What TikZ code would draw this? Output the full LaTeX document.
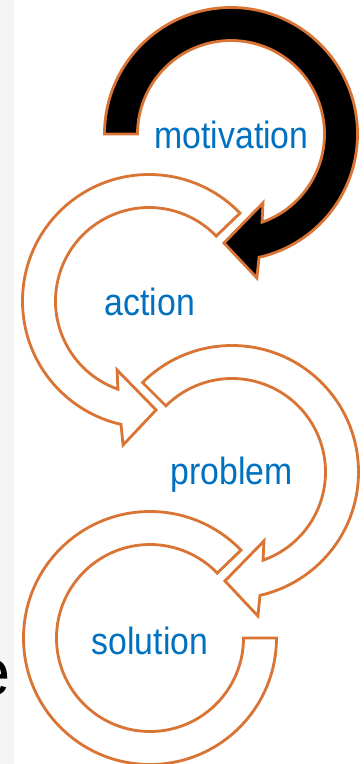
\documentclass[tikz,border=0pt]{standalone}
\usepackage{fontspec}
\setmainfont{Liberation Sans}
\definecolor{ringorange}{RGB}{217,116,52}
\definecolor{wordblue}{RGB}{0,112,192}
\tikzset{
    ringarrow/.style={draw=ringorange,line width=0.8pt,line join=miter,fill=white},
    ringword/.style={text=wordblue,font=\fontsize{10.8}{13}\selectfont,xscale=0.89,anchor=base,inner sep=0pt}
}

\begin{document}
\begin{tikzpicture}
        \clip (0,0) rectangle (3.63,-7.64);
        \fill[white] (0,0) rectangle (3.63,-7.64);
        \fill[black!4] (0,0) rectangle (0.14,-7.64);

        \coordinate (M) at (2.31,-1.34);
        \coordinate (A) at (1.49,-3.01);
        \coordinate (P) at (2.32,-4.72);
        \coordinate (S) at (1.50,-6.38);

        % solution ring, open on the right
        \begin{scope}[shift={(S)}]
            \draw[ringarrow] (44:1.265) arc (44:360:1.265) -- (0:0.935) arc (360:44:0.935) -- cycle;
        \end{scope}
        % problem ring, clockwise
        \begin{scope}[shift={(P)}]
            \draw[ringarrow] (135:1.265) arc (135:-77.2:1.265) -- (-79.8:1.463) -- (-93.7:1.092)
                -- (-65.1:0.76) -- (-70.6:0.935) arc (-70.6:135:0.935) -- cycle;
        \end{scope}
        % action ring, anticlockwise
        \begin{scope}[shift={(A)}]
            \draw[ringarrow] (44:1.265) arc (44:257.2:1.265) -- (259.8:1.463) -- (273.7:1.092)
                -- (245.1:0.76) -- (250.6:0.935) arc (250.6:44:0.935) -- cycle;
        \end{scope}
        % motivation ring, filled black
        \begin{scope}[shift={(M)}]
            \draw[ringarrow,fill=black] (180:1.265) arc (180:-77.2:1.265) -- (-79.8:1.463) -- (-93.7:1.092)
                -- (-65.1:0.76) -- (-70.6:0.935) arc (-70.6:180:0.935) -- cycle;
        \end{scope}

        \node[ringword] (mot) at (2.315,-1.48) {motivation};
        \node[ringword] (act) at (1.50,-3.15) {action};
        \node[ringword] (prob) at (2.315,-4.84) {problem};
        \node[ringword] (sol) at (1.50,-6.54) {solution};

        \node[anchor=base east,inner sep=0pt,font=\fontsize{19}{20}\selectfont] (edge) at (0.11,-6.95) {e};

    \end{tikzpicture}
\end{document}
